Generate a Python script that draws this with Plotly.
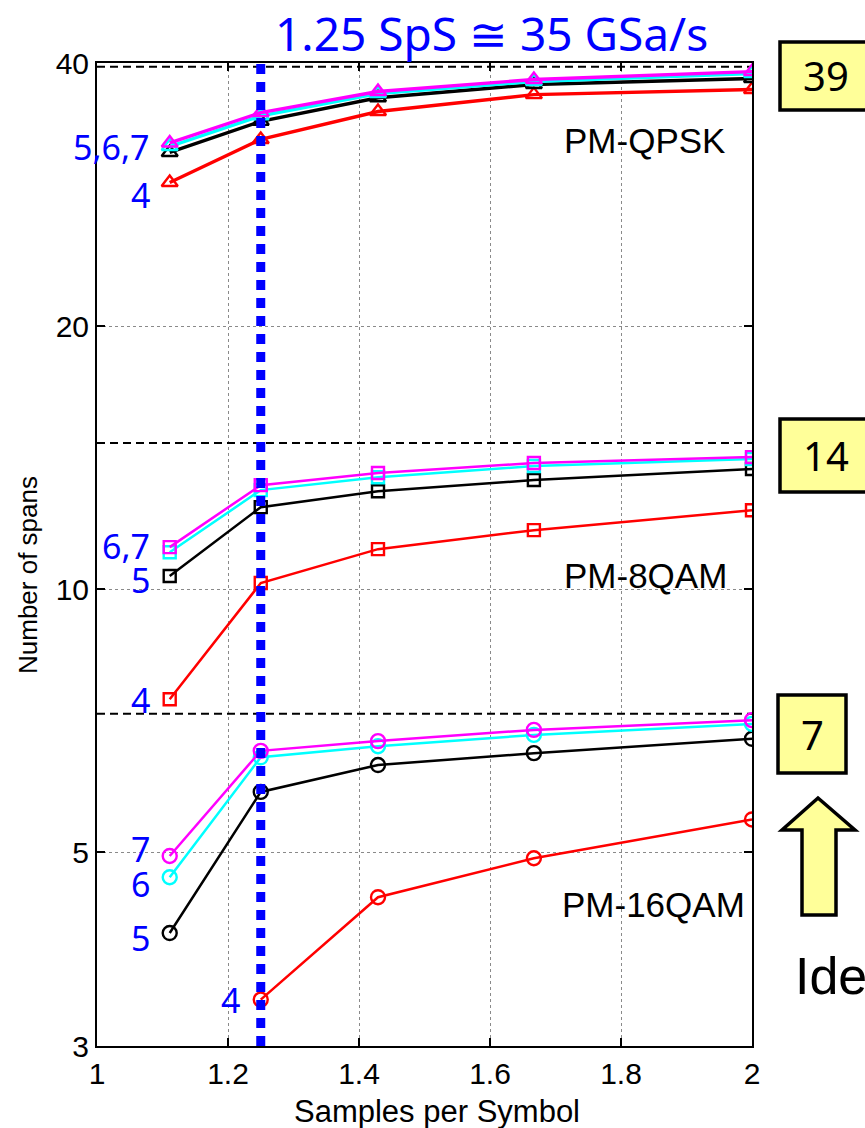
import math
import plotly.graph_objects as go

# Samples per symbol (oversampling ratio) on the x axis
sps = [1.111, 1.25, 1.429, 1.667, 2.0]

# Number of spans reached, per format and per number of taps (4..7)
qpsk_4 = [29.2, 32.7, 35.2, 36.8, 37.3]
qpsk_5 = [31.6, 34.3, 36.5, 37.8, 38.4]
qpsk_6 = [32.1, 34.8, 36.9, 38.1, 38.9]
qpsk_7 = [32.4, 35.1, 37.1, 38.3, 39.1]

qam8_4 = [7.48, 10.16, 11.11, 11.68, 12.31]
qam8_5 = [10.35, 12.41, 12.94, 13.33, 13.72]
qam8_6 = [11.02, 12.98, 13.43, 13.83, 14.09]
qam8_7 = [11.17, 13.15, 13.58, 13.94, 14.16]

qam16_4 = [None, 3.39, 4.44, 4.92, 5.45]
qam16_5 = [4.04, 5.86, 6.29, 6.49, 6.74]
qam16_6 = [4.68, 6.42, 6.61, 6.81, 7.01]
qam16_7 = [4.95, 6.53, 6.70, 6.90, 7.08]

# Ideal (unlimited sampling) reach for QPSK, 8QAM, 16QAM
ideal_reach = [39.6, 14.7, 7.2]

format_names = ["PM-QPSK", "PM-8QAM", "PM-16QAM"]
sps_marked = 1.25

x_ticks = [1, 1.2, 1.4, 1.6, 1.8, 2]
x_tick_text = ["1", "1.2", "1.4", "1.6", "1.8", "2"]
y_ticks = [3, 5, 10, 20, 40]
y_tick_text = ["3", "5", "10", "20", "40"]

W, H = 865, 1128
L, R, T, B = 97, 752, 63, 1046
SANS = "Liberation Sans, Arial, Helvetica, sans-serif"
HUMAN = "Noto Sans, sans-serif"


def px(x):
    return (x - L) / (R - L)


def py(y):
    return (B - y) / (B - T)


tap_colors = {"4": "#FF0000", "5": "#000000", "6": "#00FFFF", "7": "#FF00FF"}

fig = go.Figure()

groups = [
    ("triangle-up-open", 3.4, 14, {"4": qpsk_4, "5": qpsk_5, "6": qpsk_6, "7": qpsk_7}),
    ("square-open", 2.5, 12, {"4": qam8_4, "5": qam8_5, "6": qam8_6, "7": qam8_7}),
    ("circle-open", 2.5, 14, {"4": qam16_4, "5": qam16_5, "6": qam16_6, "7": qam16_7}),
]

# Ideal reach reference lines
for v in ideal_reach:
    fig.add_trace(go.Scatter(
        x=[1, 2], y=[v, v], mode="lines",
        line=dict(color="black", width=2, dash="8px,5px"),
        showlegend=False, hoverinfo="skip"))

for symbol, lw, ms, series in groups:
    for taps in ["4", "5", "6", "7"]:
        c = tap_colors[taps]
        fig.add_trace(go.Scatter(
            x=sps, y=series[taps], mode="lines+markers",
            line=dict(color=c, width=lw),
            marker=dict(symbol=symbol, size=ms, color=c, line=dict(color=c, width=2.4)),
            showlegend=False, connectgaps=False))

# Vertical marker at the chosen oversampling ratio
fig.add_trace(go.Scatter(
    x=[sps_marked, sps_marked], y=[y_ticks[0], y_ticks[-1]], mode="lines",
    line=dict(color="#0000FF", width=9, dash="10px,8px"),
    showlegend=False, hoverinfo="skip"))

annotations = []

# Heading
annotations.append(dict(
    x=px(491), y=py(33), xref="paper", yref="paper", showarrow=False,
    text="1.25 SpS \u2245 35 GSa/s", xanchor="center", yanchor="middle",
    font=dict(family=HUMAN, size=46, color="#0000FF")))

# Axis titles
annotations.append(dict(
    x=px(437), y=py(1111), xref="paper", yref="paper", showarrow=False,
    text="Samples per Symbol", xanchor="center", yanchor="middle",
    font=dict(family=SANS, size=31, color="black")))
annotations.append(dict(
    x=px(28), y=py(575), xref="paper", yref="paper", showarrow=False,
    text="Number of spans", textangle=-90, xanchor="center", yanchor="middle",
    font=dict(family=SANS, size=26, color="black")))

# Format names
for name, (xx, yy) in zip(format_names, [(562, 140), (562, 575), (560, 904)]):
    annotations.append(dict(
        x=px(xx), y=py(yy), xref="paper", yref="paper", showarrow=False,
        text=name, xanchor="left", yanchor="middle",
        font=dict(family=SANS, size=35, color="black")))

# Tap-count labels beside the curves
tap_labels = [
    ("5,6,7", 152, 147), ("4", 152, 195),
    ("6,7", 152, 546), ("5", 152, 580), ("4", 152, 700),
    ("7", 152, 849), ("6", 152, 884), ("5", 152, 938), ("4", 242, 1000),
]
for txt, xx, yy in tap_labels:
    annotations.append(dict(
        x=px(xx), y=py(yy), xref="paper", yref="paper", showarrow=False,
        text=txt, xanchor="right", yanchor="middle",
        font=dict(family=HUMAN, size=34, color="#0000FF")))

# Ideal reach boxes
shapes = []
box_geom = [(780, 880, 42, 110, 826, 75), (780, 880, 419, 492, 826, 455), (778, 846, 695, 773, 812, 734)]
for v, (x0, x1, y0, y1, tx, ty) in zip(ideal_reach, box_geom):
    shapes.append(dict(
        type="rect", xref="paper", yref="paper",
        x0=px(x0), x1=px(x1), y0=py(y1), y1=py(y0),
        fillcolor="#FFFF99", line=dict(color="black", width=3.5), layer="above"))
    annotations.append(dict(
        x=px(tx), y=py(ty), xref="paper", yref="paper", showarrow=False,
        text=str(int(math.floor(v))), xanchor="center", yanchor="middle",
        font=dict(family=HUMAN, size=40, color="black")))

# Up arrow pointing at the ideal boxes
pts = [(818, 798), (855, 830), (836, 830), (836, 915), (802, 915), (802, 830), (782, 830)]
path = "M " + " L ".join(f"{px(a):.5f},{py(b):.5f}" for a, b in pts) + " Z"
shapes.append(dict(type="path", xref="paper", yref="paper", path=path,
                   fillcolor="#FFFF99", line=dict(color="black", width=3.5), layer="above"))

annotations.append(dict(
    x=px(793), y=py(976), xref="paper", yref="paper", showarrow=False,
    text="Ideal", xanchor="left", yanchor="middle",
    font=dict(family=SANS, size=52, color="black")))

fig.update_layout(
    width=W, height=H,
    margin=dict(l=L, r=W - R, t=T, b=H - B, pad=0),
    paper_bgcolor="white", plot_bgcolor="white",
    shapes=shapes, annotations=annotations,
    showlegend=False,
    font=dict(family=SANS, color="black"),
)

fig.update_xaxes(
    range=[1, 2], tickvals=x_ticks, ticktext=x_tick_text,
    showgrid=True, gridcolor="#8a8a8a", gridwidth=1, griddash="dot",
    showline=True, linecolor="black", linewidth=2, mirror="ticks",
    ticks="inside", ticklen=8, tickwidth=1.5, tickcolor="black",
    tickfont=dict(family=SANS, size=30, color="black"),
    zeroline=False)
fig.update_yaxes(
    type="log", range=[math.log10(3), math.log10(40)],
    tickvals=y_ticks, ticktext=y_tick_text,
    showgrid=True, gridcolor="#8a8a8a", gridwidth=1, griddash="dot",
    showline=True, linecolor="black", linewidth=2, mirror="ticks",
    ticks="inside", ticklen=8, tickwidth=1.5, tickcolor="black",
    tickfont=dict(family=SANS, size=30, color="black"),
    zeroline=False)

fig.write_html("out.html")
